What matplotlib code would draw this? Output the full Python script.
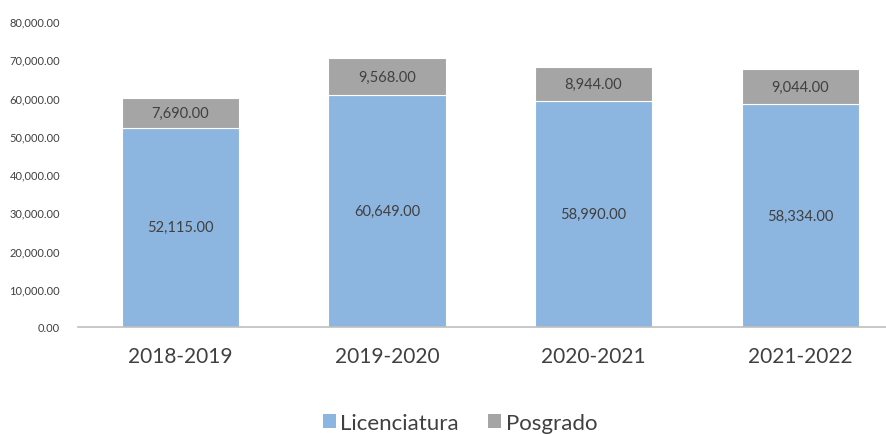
import matplotlib
matplotlib.use("Agg")
import matplotlib.pyplot as plt
from matplotlib.patches import Patch

plt.rcParams['font.family'] = ['Lato', 'DejaVu Sans']

categories = ["2018-2019", "2019-2020", "2020-2021", "2021-2022"]
licenciatura = [52115, 60649, 58990, 58334]
posgrado = [7690, 9568, 8944, 9044]
yticks = [0, 10000, 20000, 30000, 40000, 50000, 60000, 70000, 80000]

blue = "#8CB5E0"
gray = "#A5A5A5"
txt = "#404040"

fig = plt.figure(figsize=(8.86, 4.35), dpi=100)
ax = fig.add_axes([78/886, 107/435, (886-78)/886, (413-107)/435])

x = list(range(len(categories)))
w = 0.567
ax.bar(x, licenciatura, w, color=blue, edgecolor="white", linewidth=0.8)
ax.bar(x, posgrado, w, bottom=licenciatura, color=gray, edgecolor="white", linewidth=0.8)

for xi, l, p in zip(x, licenciatura, posgrado):
    ax.text(xi, l/2, f"{l:,.2f}", ha="center", va="center", fontsize=10.5, color=txt)
    ax.text(xi, l + p/2, f"{p:,.2f}", ha="center", va="center", fontsize=10.5, color=txt)

ax.set_xlim(-0.496, 3.416)
ax.set_ylim(0, 80000)
ax.set_yticks(yticks)
ax.set_yticklabels([f"{v:,.2f}" for v in yticks], fontsize=8, color=txt)
ax.set_xticks(x)
ax.set_xticklabels(categories, fontsize=15, color=txt)
ax.tick_params(axis="y", length=0, pad=13)
ax.tick_params(axis="x", length=0, pad=14)
for s in ["top", "right", "left"]:
    ax.spines[s].set_visible(False)
ax.spines["bottom"].set_color("#BFBFBF")
ax.spines["bottom"].set_linewidth(1.2)

handles = [Patch(facecolor=blue, label="Licenciatura"), Patch(facecolor=gray, label="Posgrado")]
fig.legend(handles=handles, loc="center", bbox_to_anchor=(460/886, 1 - 424/435), ncol=2,
           frameon=False, fontsize=16, handlelength=0.6, handleheight=0.6,
           handletextpad=0.2, columnspacing=1.3, labelcolor=txt)

fig.savefig("out.png", dpi=100)
